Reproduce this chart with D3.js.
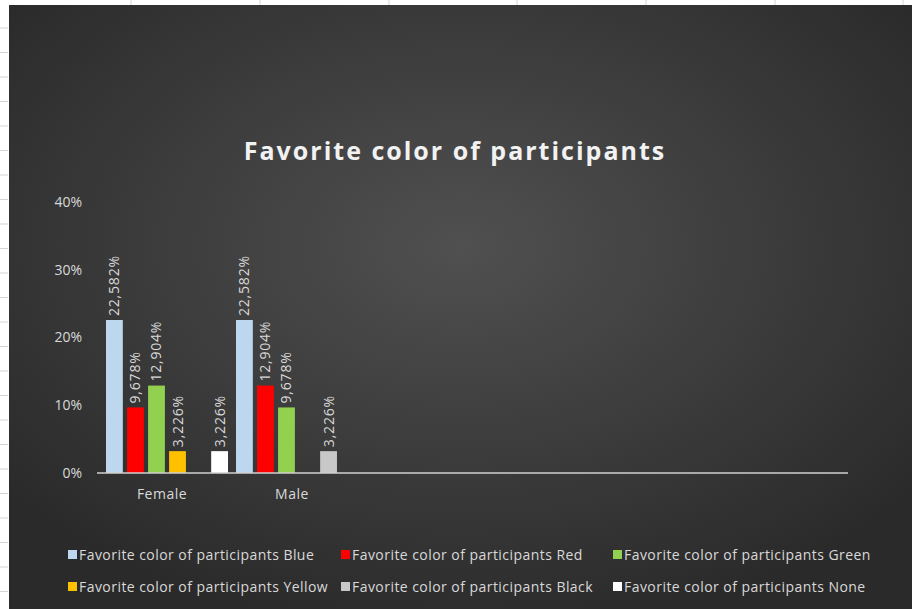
<!DOCTYPE html>
<html>
<head>
<meta charset="utf-8">
<script src="https://cdn.jsdelivr.net/npm/d3@7"></script>
<style>
  body { margin: 0; background: #fff; }
  svg { display: block; font-family: "Open Sans", "Noto Sans", sans-serif; }
</style>
</head>
<body>
<div id="chart"></div>
<script>
// data
var categories = ['Female', 'Male'];
var seriesNames = ['Blue', 'Red', 'Green', 'Yellow', 'Black', 'None'];
var seriesColors = ['#bdd7ee', '#ff0000', '#92d050', '#ffc000', '#c8c8c8', '#ffffff'];
var femaleValues = [22.582, 9.678, 12.904, 3.226, 0, 3.226];
var maleValues = [22.582, 12.904, 9.678, 0, 3.226, 0];
var yTicks = [0, 10, 20, 30, 40];
var title = 'Favorite color of participants';

var width = 912, height = 609;

var table = categories.map(function (c, i) {
    var vals = i == 0 ? femaleValues : maleValues;
    return { cat: c, bars: seriesNames.map(function (s, j) { return { name: s, value: vals[j], color: seriesColors[j] }; }) };
});

var svg = d3.select('#chart').append('svg')
    .attr('width', width)
    .attr('height', height);

// background gradient, like the excel dark style
var defs = svg.append('defs');
var grad = defs.append('radialGradient')
    .attr('id', 'bg')
    .attr('cx', '50%').attr('cy', '40%').attr('r', '65%');
grad.append('stop').attr('offset', '0%').attr('stop-color', '#505050');
grad.append('stop').attr('offset', '100%').attr('stop-color', '#2a2a2a');

svg.append('rect')
    .attr('x', 9).attr('y', 5)
    .attr('width', width - 9).attr('height', height - 5)
    .attr('fill', 'url(#bg)');

// spreadsheet bits peeking out at the edges
svg.selectAll('.rowline').data(d3.range(28, height, 24.5)).enter().append('line')
    .attr('x1', 0).attr('x2', 8)
    .attr('y1', function (d) { return d; }).attr('y2', function (d) { return d; })
    .attr('stroke', '#d4d4d4');
svg.selectAll('.colline').data([131, 260, 389, 517, 646, 775, 903]).enter().append('line')
    .attr('x1', function (d) { return d; }).attr('x2', function (d) { return d; })
    .attr('y1', 0).attr('y2', 5)
    .attr('stroke', '#d4d4d4');

var y = d3.scaleLinear().domain([0, 40]).range([473, 202]);
var x0 = d3.scaleBand().domain(categories).range([97, 357]);
var x1 = d3.scaleBand().domain(seriesNames).range([9, 131]).paddingInner(0.2);

// title
svg.append('text')
    .attr('x', 455).attr('y', 160)
    .attr('text-anchor', 'middle')
    .attr('fill', '#f2f2f2')
    .style('font-size', '25px')
    .style('font-weight', 'bold')
    .style('letter-spacing', '2px')
    .text(title);

// y axis, labels only
var yAxis = svg.append('g')
    .attr('transform', 'translate(82,0)')
    .call(d3.axisLeft(y).tickValues(yTicks).tickSize(0).tickPadding(0).tickFormat(function (d) { return d + '%'; }));
yAxis.select('.domain').remove();
yAxis.selectAll('text')
    .attr('fill', '#d9d9d9')
    .style('font-size', '14px')
    .style('font-family', '"Open Sans", sans-serif');

// bars
var groups = svg.selectAll('.grp').data(table).enter().append('g')
    .attr('transform', function (d) { return 'translate(' + x0(d.cat) + ',0)'; });

groups.selectAll('rect').data(function (d) { return d.bars.filter(function (b) { return b.value > 0; }); })
    .enter().append('rect')
    .attr('x', function (d) { return x1(d.name); })
    .attr('y', function (d) { return y(d.value); })
    .attr('width', x1.bandwidth())
    .attr('height', function (d) { return y(0) - y(d.value); })
    .attr('fill', function (d) { return d.color; });

groups.selectAll('.lbl').data(function (d) { return d.bars.filter(function (b) { return b.value > 0; }); })
    .enter().append('text')
    .attr('transform', function (d) {
        return 'translate(' + (x1(d.name) + x1.bandwidth() / 2 + 5) + ',' + (y(d.value) - 4) + ') rotate(-90)';
    })
    .attr('fill', '#d9d9d9')
    .style('font-size', '14px')
    .style('letter-spacing', '0.8px')
    .text(function (d) { return d.value.toFixed(3).replace('.', ',') + '%'; });

// x axis line + category labels
var xAxis = svg.append('g')
    .attr('transform', 'translate(0,' + y(0) + ')')
    .call(d3.axisBottom(x0).tickSize(0).tickPadding(16));
xAxis.select('.domain').remove();
xAxis.selectAll('text')
    .attr('fill', '#d9d9d9')
    .style('font-size', '14px')
    .style('letter-spacing', '0.5px')
    .style('font-family', '"Open Sans", sans-serif');

svg.append('line')
    .attr('x1', 97).attr('x2', 848)
    .attr('y1', y(0)).attr('y2', y(0))
    .attr('stroke', '#d0d0d0')
    .attr('stroke-width', 1.5);

// legend, two rows of three
var legendX = [68, 341, 613];
var legendY = [555, 587];
var legend = svg.selectAll('.leg').data(seriesNames).enter().append('g')
    .attr('transform', function (d, i) { return 'translate(' + legendX[i % 3] + ',' + legendY[Math.floor(i / 3)] + ')'; });
legend.append('rect')
    .attr('x', 0).attr('y', -5)
    .attr('width', 9).attr('height', 9)
    .attr('fill', function (d, i) { return seriesColors[i]; });
legend.append('text')
    .attr('x', 11).attr('y', 5)
    .attr('fill', '#d9d9d9')
    .style('font-size', '14px')
    .style('letter-spacing', '0.45px')
    .text(function (d) { return 'Favorite color of participants ' + d; });
</script>
</body>
</html>
